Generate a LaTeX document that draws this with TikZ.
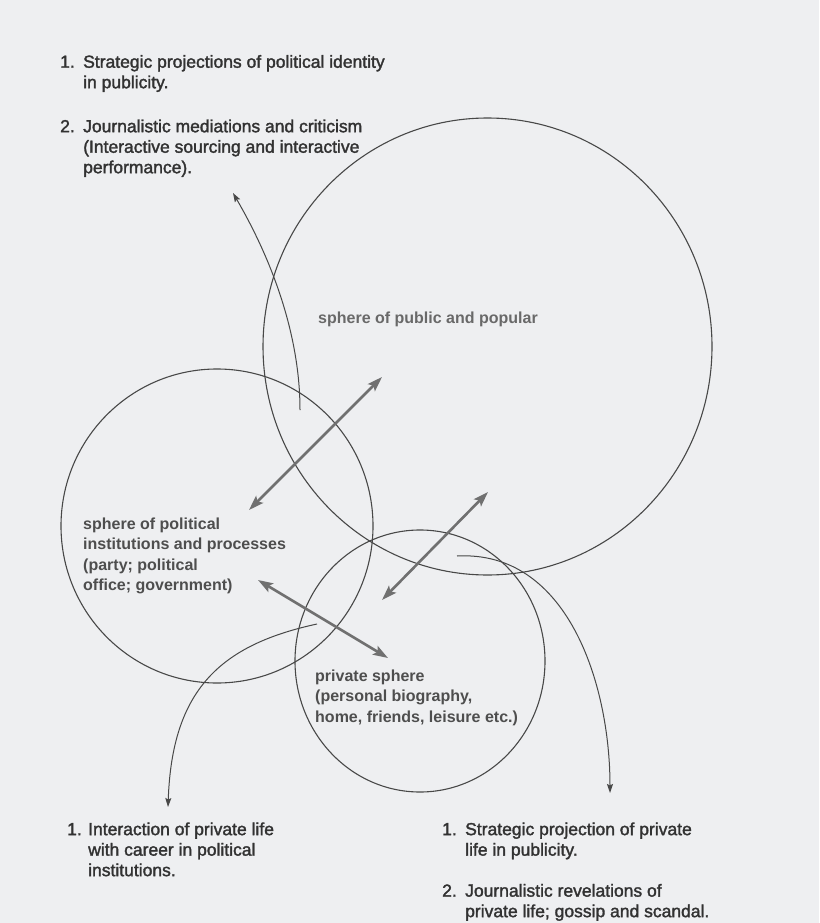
\documentclass[tikz,border=0pt]{standalone}
\usepackage{fontspec}
\setmainfont{Liberation Sans}
\newfontfamily\listfont[FakeBold=1.8]{Liberation Sans}
\usetikzlibrary{arrows.meta,shapes.geometric}
\definecolor{paper}{RGB}{238,239,241}
\definecolor{ink}{RGB}{72,72,72}
\definecolor{linkgray}{RGB}{112,112,112}
\definecolor{labelgray}{RGB}{78,78,78}
\definecolor{textgray}{RGB}{50,50,50}
\begin{document}
\begin{tikzpicture}[x=1pt,y=-1pt,
  sphere/.style={draw=ink, line width=1.1pt, ellipse, inner sep=0pt},
  link/.style={draw=linkgray, line width=2.6pt, arrows={Stealth[length=15pt,width=10pt,inset=3pt]-Stealth[length=15pt,width=10pt,inset=3pt]}},
  flow/.style={draw=ink, line width=1pt, arrows={-Stealth[length=9pt,width=6pt,inset=1.5pt]}},
  listtext/.style={anchor=north west, inner sep=0pt, text=textgray, font=\listfont\fontsize{17.5}{20.5}\selectfont},
  sphlabel/.style={anchor=north west, inner sep=0pt, text=labelgray, font=\bfseries\fontsize{16}{20.5}\selectfont}
]
\fill[paper] (0,0) rectangle (819,923);
\useasboundingbox (0,0) rectangle (819,923);

% spheres
\node[sphere, minimum width=449pt, minimum height=457pt] (public) at (487.5,346.5) {};
\node[sphere, minimum width=312pt, minimum height=314pt] (political) at (217,526) {};
\node[sphere, minimum width=250pt, minimum height=262pt] (private) at (420,661) {};

% labels
\node[anchor=base west, inner sep=0pt, text=labelgray!85, font=\bfseries\fontsize{16}{20.5}\selectfont] (publab) at (318,323) {sphere of public and popular};
\node[sphlabel] (pollab) at (83,514.7) {\begin{tabular}{@{}l@{}}sphere of political\\ institutions and processes\\ (party; political\\ office; government)\end{tabular}};
\node[sphlabel] (privlab) at (315,666.7) {\begin{tabular}{@{}l@{}}private sphere\\ (personal biography,\\ home, friends, leisure etc.)\end{tabular}};

% lists
\node[listtext] (toplist) at (60,53.2) {\begin{tabular}{@{}l@{}l@{}}
\makebox[23pt][l]{1.} & Strategic projections of political identity\\
 & in publicity.\\[23.5pt]
\makebox[23pt][l]{2.} & Journalistic mediations and criticism\\
 & (Interactive sourcing and interactive\\
 & performance).
\end{tabular}};
\node[listtext] (leftlist) at (67,820.6) {\begin{tabular}{@{}l@{}l@{}}
\makebox[21pt][l]{1.} & Interaction of private life\\
 & with career in political\\
 & institutions.
\end{tabular}};
\node[listtext] (rightlist) at (442,820.6) {\begin{tabular}{@{}l@{}l@{}}
\makebox[23pt][l]{1.} & Strategic projection of private\\
 & life in publicity.\\[20.5pt]
\makebox[23pt][l]{2.} & Journalistic revelations of\\
 & private life; gossip and scandal.
\end{tabular}};

% double arrows between spheres
\coordinate (a1) at (249,510);
\coordinate (a2) at (382,377);
\coordinate (b1) at (382,600);
\coordinate (b2) at (488,492);
\coordinate (c1) at (258,580);
\coordinate (c2) at (388,658);
\draw[link] (a1) -- (a2);
\draw[link] (b1) -- (b2);
\draw[link] (c1) -- (c2);

% curved arrows to the lists
\coordinate (t0) at (300,410);
\coordinate (t1) at (233,193);
\coordinate (l0) at (317,624);
\coordinate (l1) at (168,807);
\coordinate (r0) at (457,556);
\coordinate (r1) at (610,793);
\draw[flow] (t0) .. controls (300,335) and (272,260) .. (t1);
\draw[flow] (l0) .. controls (220,645) and (172,690) .. (l1);
\draw[flow] (r0) .. controls (567,550) and (610,683) .. (r1);
\end{tikzpicture}
\end{document}
